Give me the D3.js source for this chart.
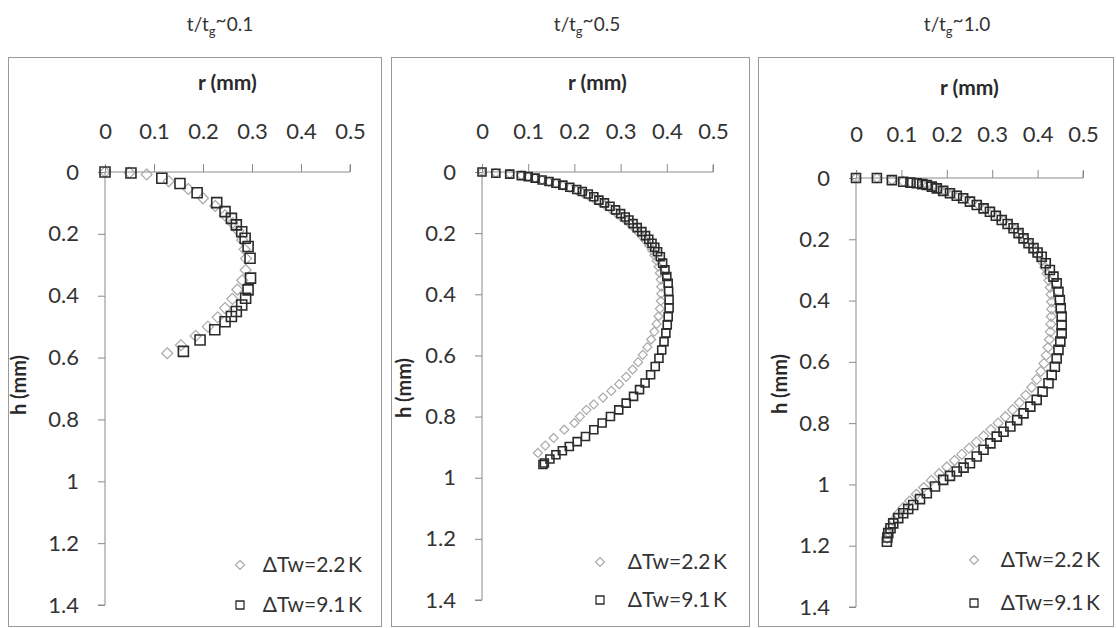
<!DOCTYPE html>
<html>
<head>
<meta charset="utf-8">
<script src="https://cdn.jsdelivr.net/npm/d3@7"></script>
<style>
  html, body { margin: 0; padding: 0; background: #fff; }
  svg { display: block; }
  text { font-family: "Lato", "Open Sans", sans-serif; fill: #2a2a2a; }
</style>
</head>
<body>
<svg id="chart" width="1116" height="628"></svg>
<script>
// Bubble profiles r(h) at three growth stages, two wall superheats.
const panelTitles = ["0.1", "0.5", "1.0"];
const seriesNames = ["\u0394Tw=2.2\u2009K", "\u0394Tw=9.1\u2009K"];
const rTicks = [0, 0.1, 0.2, 0.3, 0.4, 0.5];
const hTicks = [0, 0.2, 0.4, 0.6, 0.8, 1, 1.2, 1.4];

// t/tg ~ 0.1
const lowDT_01 = [[0,0],[0.05,0.002],[0.085,0.008],[0.13,0.03],[0.17,0.055],[0.2,0.085],[0.225,0.11],[0.245,0.14],[0.26,0.165],[0.272,0.19],[0.28,0.22],[0.285,0.25],[0.288,0.28],[0.287,0.317],[0.28,0.35],[0.27,0.38],[0.26,0.41],[0.245,0.44],[0.23,0.47],[0.21,0.5],[0.185,0.53],[0.155,0.56],[0.127,0.586]];
const highDT_01 = [[0,0],[0.053,0.003],[0.116,0.02],[0.153,0.037],[0.188,0.067],[0.228,0.099],[0.245,0.128],[0.258,0.15],[0.268,0.171],[0.279,0.193],[0.286,0.214],[0.292,0.241],[0.296,0.279],[0.297,0.343],[0.292,0.381],[0.287,0.408],[0.279,0.43],[0.268,0.451],[0.258,0.467],[0.245,0.484],[0.224,0.51],[0.194,0.543],[0.16,0.58]];

// t/tg ~ 0.5
const lowDT_05 = [[0,0],[0.03,0.003],[0.06,0.006],[0.085,0.011],[0.1,0.015],[0.115,0.02],[0.13,0.026],[0.145,0.032],[0.16,0.038],[0.175,0.045],[0.19,0.052],[0.205,0.06],[0.218,0.068],[0.23,0.077],[0.242,0.087],[0.254,0.097],[0.266,0.108],[0.278,0.12],[0.29,0.133],[0.3,0.145],[0.31,0.157],[0.32,0.17],[0.33,0.184],[0.339,0.198],[0.347,0.212],[0.355,0.226],[0.362,0.241],[0.368,0.256],[0.373,0.272],[0.378,0.29],[0.382,0.31],[0.385,0.33],[0.387,0.352],[0.388,0.375],[0.388,0.398],[0.387,0.422],[0.385,0.447],[0.382,0.472],[0.378,0.497],[0.373,0.522],[0.366,0.548],[0.358,0.573],[0.348,0.598],[0.338,0.622],[0.326,0.646],[0.312,0.67],[0.297,0.694],[0.28,0.716],[0.262,0.738],[0.242,0.76],[0.226,0.778],[0.212,0.8],[0.2,0.821],[0.178,0.843],[0.155,0.87],[0.137,0.895],[0.121,0.919]];
const highDT_05 = [[0,0],[0.03,0.004],[0.06,0.007],[0.085,0.012],[0.1,0.015],[0.115,0.02],[0.13,0.026],[0.145,0.031],[0.16,0.037],[0.175,0.043],[0.19,0.05],[0.205,0.057],[0.217,0.064],[0.23,0.072],[0.242,0.081],[0.253,0.092],[0.265,0.101],[0.277,0.112],[0.289,0.124],[0.3,0.136],[0.31,0.147],[0.318,0.157],[0.327,0.169],[0.336,0.182],[0.346,0.195],[0.354,0.208],[0.361,0.22],[0.368,0.233],[0.374,0.246],[0.38,0.261],[0.386,0.277],[0.391,0.298],[0.396,0.32],[0.4,0.342],[0.403,0.364],[0.404,0.39],[0.405,0.418],[0.405,0.445],[0.403,0.473],[0.401,0.5],[0.398,0.527],[0.394,0.555],[0.389,0.582],[0.383,0.609],[0.375,0.636],[0.365,0.663],[0.353,0.69],[0.341,0.712],[0.328,0.734],[0.312,0.756],[0.296,0.778],[0.278,0.8],[0.26,0.821],[0.242,0.843],[0.224,0.865],[0.206,0.882],[0.189,0.898],[0.174,0.912],[0.16,0.925],[0.147,0.939],[0.135,0.952],[0.132,0.957]];

// t/tg ~ 1.0
const lowDT_10 = [[0,0],[0.046,0],[0.079,0.006],[0.104,0.011],[0.12,0.014],[0.134,0.017],[0.146,0.021],[0.158,0.025],[0.17,0.03],[0.183,0.036],[0.197,0.043],[0.211,0.05],[0.225,0.058],[0.24,0.067],[0.255,0.077],[0.27,0.088],[0.285,0.1],[0.299,0.112],[0.312,0.125],[0.325,0.139],[0.338,0.153],[0.35,0.168],[0.361,0.184],[0.372,0.2],[0.382,0.217],[0.392,0.234],[0.401,0.252],[0.409,0.271],[0.416,0.291],[0.421,0.312],[0.425,0.334],[0.428,0.357],[0.43,0.38],[0.431,0.404],[0.431,0.428],[0.43,0.452],[0.429,0.477],[0.428,0.502],[0.426,0.527],[0.423,0.553],[0.419,0.579],[0.414,0.605],[0.407,0.631],[0.398,0.657],[0.387,0.683],[0.374,0.709],[0.36,0.733],[0.345,0.756],[0.329,0.779],[0.313,0.8],[0.297,0.821],[0.281,0.842],[0.265,0.862],[0.249,0.882],[0.233,0.902],[0.217,0.922],[0.2,0.943],[0.183,0.965],[0.166,0.987],[0.149,1.01],[0.133,1.032],[0.118,1.054],[0.104,1.076],[0.092,1.097],[0.082,1.118],[0.075,1.138],[0.071,1.157],[0.069,1.175]];
const highDT_10 = [[0,0],[0.046,0],[0.079,0.007],[0.104,0.012],[0.12,0.015],[0.134,0.017],[0.146,0.02],[0.156,0.023],[0.167,0.028],[0.178,0.034],[0.192,0.042],[0.207,0.05],[0.222,0.058],[0.236,0.066],[0.251,0.077],[0.266,0.088],[0.281,0.099],[0.295,0.11],[0.308,0.123],[0.321,0.137],[0.334,0.15],[0.347,0.164],[0.358,0.18],[0.369,0.197],[0.38,0.213],[0.391,0.229],[0.4,0.243],[0.409,0.257],[0.418,0.278],[0.427,0.3],[0.435,0.322],[0.442,0.344],[0.446,0.371],[0.449,0.398],[0.451,0.425],[0.453,0.452],[0.453,0.48],[0.453,0.507],[0.45,0.534],[0.446,0.561],[0.442,0.589],[0.438,0.616],[0.431,0.643],[0.424,0.67],[0.411,0.697],[0.398,0.724],[0.384,0.746],[0.369,0.768],[0.355,0.79],[0.34,0.811],[0.325,0.828],[0.31,0.844],[0.296,0.866],[0.281,0.887],[0.266,0.909],[0.251,0.931],[0.237,0.945],[0.222,0.958],[0.207,0.972],[0.192,0.985],[0.174,1.007],[0.156,1.029],[0.141,1.048],[0.126,1.067],[0.115,1.08],[0.104,1.094],[0.093,1.11],[0.082,1.127],[0.076,1.143],[0.071,1.159],[0.069,1.173],[0.068,1.187]];

const panelData = [[lowDT_01, highDT_01], [lowDT_05, highDT_05], [lowDT_10, highDT_10]];

// Frame and plot-area geometry for each panel
const layout = [
  { box: [8, 57, 373, 569], x0: 105, x1: 350, y0: 172, y1: 605, titleX: 220, hLabelX: 19, hLabelY: 385, rLabelY: 90, tickY: 139, sq: 10, dm: 11, legX: 240, legY: [565, 605], legTextX: 362 },
  { box: [391, 57, 358, 569], x0: 482, x1: 713, y0: 172, y1: 600, titleX: 587, hLabelX: 404, hLabelY: 388, rLabelY: 90, tickY: 139, sq: 8, dm: 9, legX: 600, legY: [562, 600], legTextX: 727 },
  { box: [758, 57, 355, 569], x0: 856, x1: 1083, y0: 178, y1: 607, titleX: 957, hLabelX: 780, hLabelY: 384, rLabelY: 95, tickY: 142, sq: 9, dm: 10, legX: 974, legY: [560, 603], legTextX: 1100 }
];

const svg = d3.select("#chart");
const fmt = d => (d === 0 ? "0" : d3.format("~g")(d));

function diamondPath(s) {
  const h = s / 2;
  return `M0,${-h}L${h},0L0,${h}L${-h},0Z`;
}
function squarePath(s) {
  const h = s / 2;
  return `M${-h},${-h}H${h}V${h}H${-h}Z`;
}
const markerStyle = [
  { path: diamondPath, stroke: "#a9a9a9", width: 1.2 },
  { path: squarePath, stroke: "#2b2b2b", width: 1.6 }
];

layout.forEach((L, i) => {
  const g = svg.append("g");

  // frame
  g.append("rect")
    .attr("x", L.box[0] + 0.5).attr("y", L.box[1] + 0.5)
    .attr("width", L.box[2]).attr("height", L.box[3])
    .attr("fill", "none").attr("stroke", "#9a9a9a").attr("stroke-width", 1);

  // title t/tg ~ value
  const t = g.append("text")
    .attr("x", L.titleX).attr("y", 31)
    .attr("text-anchor", "middle")
    .style("font-size", "19px").style("fill", "#333");
  t.append("tspan").text("t/t");
  t.append("tspan").attr("dy", 5).style("font-size", "13px").text("g");
  t.append("tspan").attr("dy", -9).text("~");
  t.append("tspan").attr("dy", 4).text(panelTitles[i]);

  const x = d3.scaleLinear().domain([0, 0.5]).range([L.x0, L.x1]);
  const y = d3.scaleLinear().domain([0, 1.4]).range([L.y0, L.y1]);

  // r axis along the top
  const xAxis = g.append("g")
    .attr("transform", `translate(0,${L.y0})`)
    .call(d3.axisTop(x).tickValues(rTicks).tickFormat(fmt).tickSize(8).tickPadding(24));
  xAxis.select(".domain").attr("stroke", "#8a8a8a").attr("d", `M${L.x0},0H${L.x1}V-7`);
  xAxis.selectAll(".tick line").attr("stroke", "#8a8a8a");
  xAxis.selectAll(".tick text")
    .style("font-size", "22px").style("fill", "#333")
    .attr("y", null).attr("dy", null)
    .attr("transform", `translate(0,${L.tickY - L.y0})`);

  // h axis, inverted, on the left
  const yAxis = g.append("g")
    .attr("transform", `translate(${L.x0},0)`)
    .call(d3.axisLeft(y).tickValues(hTicks).tickFormat(fmt).tickSize(7).tickPadding(19));
  yAxis.select(".domain").attr("stroke", "#8a8a8a").attr("d", `M0,${L.y0}V${L.y1}H-7`);
  yAxis.selectAll(".tick line").attr("stroke", "#8a8a8a");
  yAxis.selectAll(".tick text").style("font-size", "22px").style("fill", "#333");

  // axis titles
  g.append("text")
    .attr("x", (L.x0 + L.x1) / 2).attr("y", L.rLabelY)
    .attr("text-anchor", "middle")
    .style("font-size", "21px").style("font-weight", "bold")
    .text("r (mm)");
  g.append("text")
    .attr("transform", `translate(${L.hLabelX + 7},${L.hLabelY}) rotate(-90)`)
    .attr("text-anchor", "middle")
    .style("font-size", "20px").style("font-weight", "bold")
    .text("h (mm)");

  // data markers: 2.2 K diamonds first, 9.1 K squares on top
  panelData[i].forEach((series, s) => {
    const st = markerStyle[s];
    const size = s === 0 ? L.dm : L.sq;
    g.append("g").selectAll("path")
      .data(series)
      .join("path")
      .attr("transform", d => `translate(${x(d[0])},${y(d[1])})`)
      .attr("d", st.path(size))
      .attr("fill", "none")
      .attr("stroke", st.stroke)
      .attr("stroke-width", st.width);
  });

  // legend
  seriesNames.forEach((name, s) => {
    const st = markerStyle[s];
    g.append("path")
      .attr("transform", `translate(${L.legX},${L.legY[s]})`)
      .attr("d", st.path(s === 0 ? 9 : 8))
      .attr("fill", "none").attr("stroke", st.stroke).attr("stroke-width", s === 0 ? 1.2 : 1.3);
    g.append("text")
      .attr("x", L.legTextX).attr("y", L.legY[s])
      .attr("dy", "0.35em")
      .attr("text-anchor", "end")
      .style("font-size", "21px").style("fill", "#333")
      .text(name);
  });
});
</script>
</body>
</html>
